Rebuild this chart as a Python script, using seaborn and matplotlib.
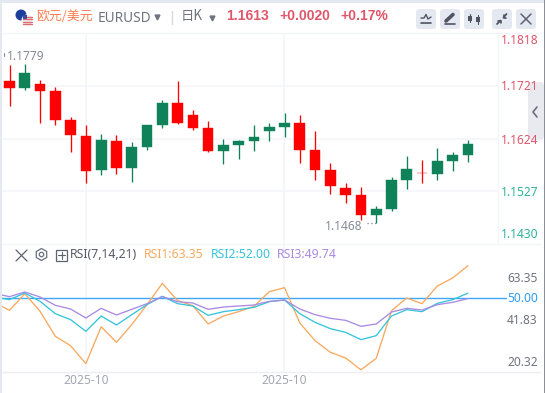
import numpy as np
import pandas as pd
import matplotlib
matplotlib.use('Agg')
import matplotlib.pyplot as plt
from matplotlib.patches import Circle, FancyBboxPatch, Rectangle, RegularPolygon
import seaborn as sns

# candle values
opens = [1.17302, 1.17173, 1.17247, 1.17118, 1.16582, 1.16286, 1.15658, 1.16194, 1.15695, 1.16083,
         1.16489, 1.16896, 1.16674, 1.16434, 1.16009, 1.16120, 1.16194, 1.16379, 1.16452, 1.16526,
         1.16028, 1.15658, 1.15325, 1.15196, 1.14827, 1.14937, 1.15473, 1.15603, 1.15584, 1.15824, 1.15935]
closes = [1.17173, 1.17450, 1.17118, 1.16582, 1.16305, 1.15640, 1.16212, 1.15695, 1.16083, 1.16489,
          1.16896, 1.16526, 1.16434, 1.16009, 1.16120, 1.16194, 1.16268, 1.16452, 1.16526, 1.16028,
          1.15658, 1.15362, 1.15196, 1.14827, 1.14937, 1.15473, 1.15677, 1.15600, 1.15824, 1.15935, 1.16138]
highs = [1.17598, 1.17616, 1.17321, 1.17192, 1.16637, 1.16489, 1.16323, 1.16305, 1.16175, 1.16489,
         1.16951, 1.17302, 1.16767, 1.16563, 1.16231, 1.16212, 1.16489, 1.16526, 1.16711, 1.16674,
         1.16379, 1.15787, 1.15418, 1.15344, 1.14993, 1.15529, 1.15917, 1.15843, 1.16065, 1.15991, 1.16212]
lows = [1.16840, 1.17136, 1.16526, 1.16489, 1.15991, 1.15418, 1.15566, 1.15584, 1.15436, 1.16028,
        1.16434, 1.16508, 1.16397, 1.15991, 1.15769, 1.15861, 1.16009, 1.16194, 1.16268, 1.15787,
        1.15473, 1.15215, 1.15048, 1.14734, 1.14679, 1.14900, 1.15307, 1.15418, 1.15473, 1.15640, 1.15806]

# first RSI point belongs to a candle just off the left edge
rsi1 = [48.21, 44.90, 51.79, 44.49, 34.16, 30.30, 22.87, 38.15, 31.68, 38.98, 47.25, 56.06, 48.90, 46.83, 39.26, 42.56,
        44.35, 46.56, 52.62, 54.27, 39.67, 32.37, 27.55, 25.21, 20.32, 25.07, 44.77, 50.00, 47.66, 54.96, 58.26, 63.35]
rsi2 = [50.41, 49.31, 52.07, 48.62, 43.53, 41.05, 36.23, 42.56, 38.84, 43.11, 47.25, 50.69, 47.66, 46.69, 42.84, 44.35,
        45.18, 46.14, 48.48, 49.17, 43.53, 39.94, 37.33, 35.81, 32.78, 34.44, 42.56, 45.18, 44.35, 47.80, 49.31, 52.00]
rsi3 = [51.93, 50.55, 52.48, 50.41, 46.97, 45.45, 41.74, 45.73, 42.98, 45.32, 47.66, 50.55, 48.48, 47.93, 45.32, 46.28,
        46.69, 47.11, 48.62, 49.17, 45.45, 43.11, 41.60, 40.77, 38.29, 39.26, 44.21, 45.73, 45.04, 47.25, 48.21, 49.74]

price_ticks = ['1.1818', '1.1721', '1.1624', '1.1527', '1.1430']
rsi_ticks = ['63.35', '50.00', '41.83', '20.32']
date_labels = ['2025-10', '2025-10']

W, H = 545, 393
RED = '#ff0000'
GREEN = '#108259'
GRID = '#f3f5f9'
UP_TXT = '#e0566a'
DOWN_TXT = '#2db39b'
GREY = '#6f7480'
ORANGE, CYAN, PURPLE = '#f8a95f', '#35c4dc', '#a98be3'
CJK = ['Noto Sans CJK SC', 'DejaVu Sans']

sns.set_theme(style='white')
plt.rcParams['font.family'] = ['Noto Sans', 'Noto Sans CJK SC', 'DejaVu Sans']
plt.rcParams['axes.unicode_minus'] = False


def make_axes(fig, left, top, right, bottom, **kw):
    return fig.add_axes([left / W, 1 - bottom / H, (right - left) / W, (bottom - top) / H], **kw)


def candle_x(px):
    return (px - 9.5) / 15.28


fig = plt.figure(figsize=(W / 100, H / 100), dpi=100, facecolor='white')

# price pane
ax = make_axes(fig, 2, 33, 498, 244)
df = pd.DataFrame({'open': opens, 'close': closes, 'high': highs, 'low': lows})
df['i'] = df.index
df['color'] = np.where(df['close'] >= df['open'], GREEN, RED)
ax.vlines(df['i'], df['low'], df['high'], colors=df['color'], linewidth=0.95, zorder=3)
ax.bar(df['i'], df['close'] - df['open'], bottom=df['open'], width=0.7, color=df['color'],
       edgecolor=df['color'], linewidth=0.3, zorder=4)
ax.set_xlim(candle_x(2), candle_x(498))
ax.set_ylim(1.1721 - (244 - 86) * 0.00018476, 1.1721 + (86 - 33) * 0.00018476)
ax.set_yticks([1.1721, 1.1624, 1.1527])
ax.set_xticks([candle_x(86), candle_x(284)])
ax.grid(True, color=GRID, linewidth=1.1)
ax.set_axisbelow(True)
sns.despine(ax=ax, left=True, bottom=True, top=True, right=False)
ax.tick_params(left=False, right=False, bottom=False, labelleft=False, labelright=False, labelbottom=False)
ax.spines['right'].set_color(GRID)
ax.spines['right'].set_linewidth(1.0)

# RSI pane, same candle scale, a little wider so the 50 line reaches its label
ax2 = make_axes(fig, 2, 244, 507, 372)
rsi_df = pd.DataFrame({'i': np.arange(-1, 31), 'rsi1': rsi1, 'rsi2': rsi2, 'rsi3': rsi3})
ax2.set_xticks([candle_x(86), candle_x(284)])
ax2.grid(True, axis='x', color=GRID, linewidth=1.1)
ax2.set_axisbelow(True)
ax2.axhline(50, color='#42a5f5', linewidth=1.0, zorder=2)
for col, c in [('rsi1', ORANGE), ('rsi2', CYAN), ('rsi3', PURPLE)]:
    sns.lineplot(data=rsi_df, x='i', y=col, color=c, linewidth=0.95, ax=ax2, zorder=3)
ax2.set_xlim(candle_x(2), candle_x(507))
ax2.set_ylim(50 - (372 - 298) / 2.42, 50 + (298 - 244) / 2.42)
ax2.set_xlabel('')
ax2.set_ylabel('')
ax2.tick_params(left=False, bottom=False, labelleft=False, labelbottom=False)
sns.despine(ax=ax2, left=True, right=True, top=True, bottom=True)
ax2.patch.set_alpha(0)

# page chrome and text, placed in pixels
ui = fig.add_axes([0, 0, 1, 1], zorder=10)
ui.set_xlim(0, W)
ui.set_ylim(H, 0)
ui.axis('off')

ui.add_patch(Rectangle((0, 0), 2, H, color='#e4e8f0', lw=0))
ui.add_patch(Rectangle((0, 0), W, 3, color='#e4e8f0', lw=0))
ui.add_patch(Rectangle((544, 0), 1, H, color='#8d8f96', lw=0))
ui.add_patch(FancyBboxPatch((528, 82), 16, 58, boxstyle='round,pad=0,rounding_size=4', fc='#e8eaf0', ec='none'))
ui.plot([537, 533, 537], [107, 112, 117], color='#6a7080', lw=1.2)
ui.plot([2, 540], [33, 33], color=GRID, lw=1.0)
ui.plot([2, 540], [244, 244], color=GRID, lw=1.0)
ui.plot([2, 540], [372, 372], color='#eceef3', lw=1.0)

# flags
ui.add_patch(Circle((21, 15), 5.5, color='#1d3f9c', lw=0))
ui.add_patch(Circle((27, 20), 5.5, color='#f2f2f2', lw=0, zorder=3))
for yy in (16.5, 19, 21.5, 24):
    ui.plot([22.5, 31.5], [yy, yy], color='#dd6b6f', lw=1.0, zorder=4)
ui.add_patch(Rectangle((22.5, 15), 4, 4, color='#3b4f9a', lw=0, zorder=5))

ui.text(36, 16, '欧元/美元', color='#ff7f50', fontsize=9.3, va='center', family=CJK)
ui.text(98, 18, 'EURUSD', color=GREY, fontsize=9.8, va='center')
ui.plot([157], [17], marker='v', ms=3.5, color=GREY)
ui.plot([171.5, 171.5], [11, 24], color='#d4d7de', lw=0.9)
ui.text(181, 16, '日K', color=GREY, fontsize=9.6, va='center', family=CJK)
ui.plot([212], [18], marker='v', ms=3.5, color=GREY)
for txt, xx in [('1.1613', 226), ('+0.0020', 279), ('+0.17%', 340)]:
    ui.text(xx, 16, txt, color=UP_TXT, fontsize=10, fontweight='bold', va='center', family='Liberation Sans')

# toolbar buttons
for bx in (416, 440, 464, 492, 516):
    ui.add_patch(FancyBboxPatch((bx, 9), 20, 20, boxstyle='round,pad=0,rounding_size=3.5', fc='#e4e8f0', ec='none'))
ui.plot([421, 424, 426, 428, 431], [18, 18, 14.5, 19, 17], color='#4e5463', lw=1.0)
ui.plot([421, 431], [23, 23], color='#4e5463', lw=1.2)
ui.plot([446, 453], [21, 14.5], color='#4e5463', lw=2.6)
ui.plot([445, 455], [23.5, 23.5], color='#4e5463', lw=1.2)
for cx, y0, y1, b0, b1 in [(470, 14, 22, 15.5, 20.5), (478, 15, 24, 16.5, 22)]:
    ui.plot([cx, cx], [y0, y1], color='#4e5463', lw=0.8)
    ui.add_patch(Rectangle((cx - 2, b0), 4, b1 - b0, color='#4e5463', lw=0))
ui.plot([497, 500.5], [24, 20.5], color='#4e5463', lw=1.3)
ui.plot([506.5, 503.5], [14, 17.5], color='#4e5463', lw=1.3)
ui.plot([500.5, 500.5, 497.5], [23, 20.5, 20.5], color='#4e5463', lw=1.2)
ui.plot([503.5, 503.5, 506], [15, 17.5, 17.5], color='#4e5463', lw=1.2)
ui.plot([521, 531], [14, 24], color='#5c6270', lw=1.1)
ui.plot([521, 531], [24, 14], color='#5c6270', lw=1.1)

# price labels, inset at the pane ends like the reference
for label, yy, c in zip(price_ticks, [41, 87, 141, 192, 234], [UP_TXT, UP_TXT, UP_TXT, DOWN_TXT, DOWN_TXT]):
    ui.text(501, yy, label, color=c, fontsize=8.6, va='center')
ui.text(7, 57, '1.1779', color='#878b98', fontsize=8.6, va='center')
ui.plot([3.5, 3.5], [53, 56], color='#878b98', lw=0.8)
ui.text(325, 226, '1.1468', color='#878b98', fontsize=8.6, va='center')
ui.plot([367, 377], [223, 223], color='#878b98', lw=0.9, ls=(0, (1, 2)))

# RSI header
ui.plot([16, 27], [250, 261], color='#5c6270', lw=0.9)
ui.plot([16, 27], [261, 250], color='#5c6270', lw=0.9)
ui.add_patch(RegularPolygon((41.5, 254.5), 6, radius=6, fc='none', ec='#6a7080', lw=0.9))
ui.add_patch(Circle((41.5, 254.5), 2.2, fc='none', ec='#6a7080', lw=0.9))
ui.add_patch(Rectangle((56, 249.5), 11, 11, fc='none', ec='#5c6270', lw=0.9))
ui.plot([61.5, 61.5], [251.5, 258.5], color='#5c6270', lw=0.8)
ui.plot([58, 65], [255, 255], color='#5c6270', lw=0.8)
ui.text(70, 255, 'RSI(7,14,21)', color='#555a66', fontsize=8.8, va='center')
ui.text(144, 255, 'RSI1:63.35', color=ORANGE, fontsize=8.8, va='center')
ui.text(211, 255, 'RSI2:52.00', color=CYAN, fontsize=8.8, va='center')
ui.text(277, 255, 'RSI3:49.74', color=PURPLE, fontsize=8.8, va='center')

for label, yy, c in zip(rsi_ticks, [278, 298, 321, 363], [GREY, '#2f9bf0', GREY, GREY]):
    ui.text(507, yy, label, color=c, fontsize=8.6, va='center')
for label, xx in zip(date_labels, [86, 284]):
    ui.text(xx, 381, label, color='#a3a7b3', fontsize=8.7, ha='center', va='center')

fig.savefig('out.png', dpi=100)
plt.close(fig)
